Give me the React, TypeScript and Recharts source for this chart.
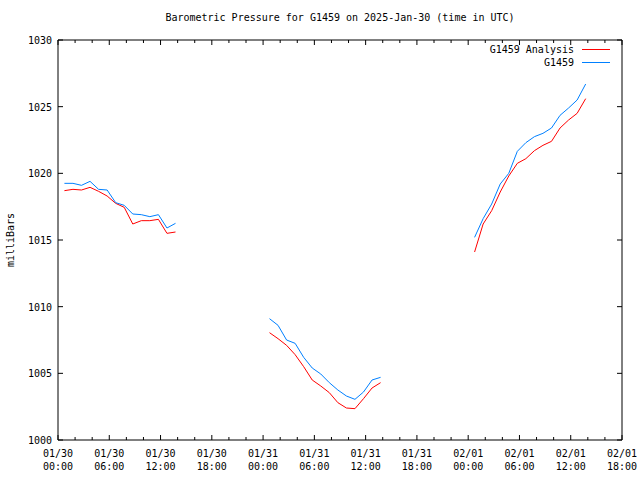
import React from 'react';
import { LineChart, Line, XAxis, YAxis, Legend } from 'recharts';

// hours since 2025-01-30 00:00 UTC
const HOURS = [
  0.75, 1.75, 2.75, 3.75, 4.75, 5.75, 6.75, 7.75, 8.75, 9.75, 10.75, 11.75, 12.75, 13.75,
  24.75, 25.75, 26.75, 27.75, 28.75, 29.75, 30.75, 31.75, 32.75, 33.75, 34.75, 35.75, 36.75, 37.75,
  48.75, 49.75, 50.75, 51.75, 52.75, 53.75, 54.75, 55.75, 56.75, 57.75, 58.75, 59.75, 60.75, 61.75,
];

const ANALYSIS = [
  1018.7, 1018.8, 1018.75, 1018.95, 1018.65, 1018.3, 1017.75, 1017.45, 1016.2, 1016.45, 1016.45, 1016.55, 1015.5, 1015.6,
  1008.05, 1007.6, 1007.1, 1006.4, 1005.5, 1004.5, 1004.05, 1003.55, 1002.8, 1002.4, 1002.35, 1003.1, 1003.9, 1004.3,
  1014.1, 1016.2, 1017.2, 1018.6, 1019.8, 1020.75, 1021.1, 1021.7, 1022.1, 1022.4, 1023.4, 1024.0, 1024.5, 1025.6,
];

const OBSERVED = [
  1019.25, 1019.25, 1019.1, 1019.4, 1018.8, 1018.75, 1017.8, 1017.6, 1016.95, 1016.9, 1016.75, 1016.9, 1015.9, 1016.25,
  1009.1, 1008.6, 1007.5, 1007.25, 1006.2, 1005.4, 1004.95, 1004.3, 1003.75, 1003.3, 1003.05, 1003.6, 1004.5, 1004.7,
  1015.2, 1016.6, 1017.7, 1019.2, 1020.0, 1021.65, 1022.3, 1022.75, 1023.0, 1023.4, 1024.35, 1024.9, 1025.5, 1026.7,
];

const GAP_HOURS = [20, 44];
const X_TICKS = [0, 2, 4, 6, 8, 10, 12, 14, 16, 18, 20, 22, 24, 26, 28, 30, 32, 34, 36, 38, 40, 42, 44, 46, 48, 50, 52, 54, 56, 58, 60, 62, 64, 66];
const Y_TICKS = [1000, 1005, 1010, 1015, 1020, 1025, 1030];
const DAY_LABELS = ['01/30', '01/31', '02/01'];

const RED = '#ff0000';
const BLUE = '#0080ff';
const FONT = '"DejaVu Sans Mono", monospace';

const data = [
  ...HOURS.map((h, i) => ({ h, analysis: ANALYSIS[i], observed: OBSERVED[i] })),
  ...GAP_HOURS.map(h => ({ h, analysis: null, observed: null })),
].sort((a, b) => a.h - b.h);

const fmtTime = (h: number) => {
  const hh = h % 24;
  return `${hh < 10 ? '0' : ''}${hh}:00`;
};

const BottomTick = (props: any) => {
  const { x, y, payload } = props;
  const major = payload.value % 6 === 0;
  return (
    <g>
      <line x1={x} x2={x} y1={y} y2={y - (major ? 5 : 3)} stroke="#000" />
      {major && (
        <text x={x} y={y} textAnchor="middle" fontFamily={FONT} fontSize={10} fill="#000">
          <tspan x={x} dy={17}>{DAY_LABELS[Math.floor(payload.value / 24)]}</tspan>
          <tspan x={x} dy={13}>{fmtTime(payload.value)}</tspan>
        </text>
      )}
    </g>
  );
};

const TopTick = (props: any) => {
  const { x, y, payload } = props;
  const major = payload.value % 6 === 0;
  return <line x1={x} x2={x} y1={y} y2={y + (major ? 5 : 3)} stroke="#000" />;
};

const LeftTick = (props: any) => {
  const { x, y, payload } = props;
  return (
    <g>
      <line x1={x} x2={x + 5} y1={y} y2={y} stroke="#000" />
      <text x={x - 6} y={y} dy={4} textAnchor="end" fontFamily={FONT} fontSize={10} fill="#000">{payload.value}</text>
    </g>
  );
};

const RightTick = (props: any) => {
  const { x, y } = props;
  return <line x1={x} x2={x - 5} y1={y} y2={y} stroke="#000" />;
};

const renderLegend = () => (
  <div style={{ fontFamily: FONT, fontSize: 10, color: '#000' }}>
    {[{ name: 'G1459 Analysis', color: RED }, { name: 'G1459', color: BLUE }].map(item => (
      <div key={item.name} style={{ display: 'flex', justifyContent: 'flex-end', alignItems: 'center', height: 13 }}>
        <span>{item.name}</span>
        <svg width={28} height={3} style={{ marginLeft: 8 }}>
          <line x1={0} x2={28} y1={1.5} y2={1.5} stroke={item.color} strokeWidth={1} />
        </svg>
      </div>
    ))}
  </div>
);

export default function App() {
  return (
    <div style={{ position: 'absolute', left: 0, top: 0, width: 640, height: 480, background: '#fff' }}>
      <div style={{ position: 'absolute', top: 12, left: 0, width: 680, textAlign: 'center', fontFamily: FONT, fontSize: 10 }}>
        Barometric Pressure for G1459 on 2025-Jan-30 (time in UTC)
      </div>
      <div style={{ position: 'absolute', left: 10, top: 240, transform: 'translate(-50%, -50%) rotate(-90deg)', fontFamily: FONT, fontSize: 10, whiteSpace: 'nowrap' }}>
        milliBars
      </div>
      <LineChart width={640} height={480} data={data} margin={{ top: 39, right: 17, bottom: 0, left: 0 }}>
        <XAxis dataKey="h" type="number" domain={[0, 66]} ticks={X_TICKS} interval={0} height={40}
          axisLine={{ stroke: '#000' }} tickLine={false} tickSize={0} tickMargin={0} tick={<BottomTick />} />
        <XAxis xAxisId="top" dataKey="h" type="number" orientation="top" domain={[0, 66]} ticks={X_TICKS} interval={0} height={1}
          axisLine={{ stroke: '#000' }} tickLine={false} tickSize={0} tickMargin={0} tick={<TopTick />} />
        <YAxis type="number" domain={[1000, 1030]} ticks={Y_TICKS} interval={0} width={58}
          axisLine={{ stroke: '#000' }} tickLine={false} tickSize={0} tickMargin={0} tick={<LeftTick />} />
        <YAxis yAxisId="right" orientation="right" type="number" domain={[1000, 1030]} ticks={Y_TICKS} interval={0} width={1}
          axisLine={{ stroke: '#000' }} tickLine={false} tickSize={0} tickMargin={0} tick={<RightTick />} />
        <Legend content={renderLegend}
          wrapperStyle={{ position: 'absolute', top: 43, right: 30, left: 'auto', width: 200, height: 0, overflow: 'visible' }} />
        <Line type="linear" dataKey="analysis" name="G1459 Analysis" stroke={RED} strokeWidth={1} dot={false}
          connectNulls={false} isAnimationActive={false} />
        <Line type="linear" dataKey="observed" name="G1459" xAxisId="top" yAxisId="right" stroke={BLUE} strokeWidth={1} dot={false}
          connectNulls={false} isAnimationActive={false} />
      </LineChart>
    </div>
  );
}
